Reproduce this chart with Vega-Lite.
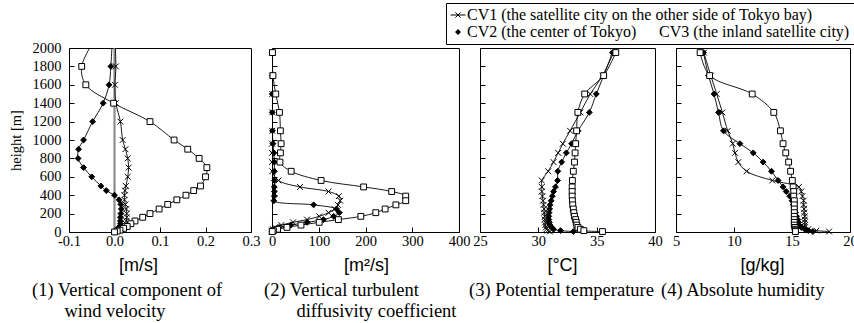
{
"$schema": "https://vega.github.io/schema/vega-lite/v6.json",
"background": "white",
"padding": {"left": 7, "top": 2, "right": 0, "bottom": 0},
"bounds": "flush",
"spacing": 21,
"datasets": {
"prof": [
{"panel":"w","site":"CV1","h":2200,"v":0.0},{"panel":"w","site":"CV1","h":1800,"v":0.003},{"panel":"w","site":"CV1","h":1600,"v":0.001},{"panel":"w","site":"CV1","h":1400,"v":0.003},{"panel":"w","site":"CV1","h":1200,"v":0.013},{"panel":"w","site":"CV1","h":1000,"v":0.018},{"panel":"w","site":"CV1","h":900,"v":0.024},{"panel":"w","site":"CV1","h":800,"v":0.029},{"panel":"w","site":"CV1","h":700,"v":0.031},{"panel":"w","site":"CV1","h":600,"v":0.029},{"panel":"w","site":"CV1","h":500,"v":0.025},{"panel":"w","site":"CV1","h":450,"v":0.023},{"panel":"w","site":"CV1","h":400,"v":0.022},{"panel":"w","site":"CV1","h":350,"v":0.022},{"panel":"w","site":"CV1","h":300,"v":0.024},{"panel":"w","site":"CV1","h":250,"v":0.026},{"panel":"w","site":"CV1","h":200,"v":0.027},{"panel":"w","site":"CV1","h":160,"v":0.027},{"panel":"w","site":"CV1","h":120,"v":0.026},{"panel":"w","site":"CV1","h":90,"v":0.025},{"panel":"w","site":"CV1","h":60,"v":0.022},{"panel":"w","site":"CV1","h":40,"v":0.018},{"panel":"w","site":"CV1","h":20,"v":0.012},{"panel":"w","site":"CV1","h":10,"v":0.006},{"panel":"w","site":"CV1","h":0,"v":0.0},
{"panel":"w","site":"CV2","h":2200,"v":-0.004},{"panel":"w","site":"CV2","h":1800,"v":-0.008},{"panel":"w","site":"CV2","h":1600,"v":-0.012},{"panel":"w","site":"CV2","h":1400,"v":-0.025},{"panel":"w","site":"CV2","h":1200,"v":-0.048},{"panel":"w","site":"CV2","h":1000,"v":-0.068},{"panel":"w","site":"CV2","h":900,"v":-0.079},{"panel":"w","site":"CV2","h":800,"v":-0.08},{"panel":"w","site":"CV2","h":700,"v":-0.068},{"panel":"w","site":"CV2","h":600,"v":-0.05},{"panel":"w","site":"CV2","h":500,"v":-0.03},{"panel":"w","site":"CV2","h":450,"v":-0.018},{"panel":"w","site":"CV2","h":400,"v":0.0},{"panel":"w","site":"CV2","h":350,"v":0.01},{"panel":"w","site":"CV2","h":300,"v":0.014},{"panel":"w","site":"CV2","h":250,"v":0.015},{"panel":"w","site":"CV2","h":200,"v":0.014},{"panel":"w","site":"CV2","h":160,"v":0.013},{"panel":"w","site":"CV2","h":120,"v":0.013},{"panel":"w","site":"CV2","h":90,"v":0.013},{"panel":"w","site":"CV2","h":60,"v":0.011},{"panel":"w","site":"CV2","h":40,"v":0.008},{"panel":"w","site":"CV2","h":20,"v":0.005},{"panel":"w","site":"CV2","h":10,"v":0.002},{"panel":"w","site":"CV2","h":0,"v":0.0},
{"panel":"w","site":"CV3","h":2200,"v":-0.03},{"panel":"w","site":"CV3","h":1800,"v":-0.072},{"panel":"w","site":"CV3","h":1600,"v":-0.063},{"panel":"w","site":"CV3","h":1400,"v":-0.002},{"panel":"w","site":"CV3","h":1200,"v":0.078},{"panel":"w","site":"CV3","h":1000,"v":0.131},{"panel":"w","site":"CV3","h":900,"v":0.161},{"panel":"w","site":"CV3","h":800,"v":0.186},{"panel":"w","site":"CV3","h":700,"v":0.203},{"panel":"w","site":"CV3","h":600,"v":0.2},{"panel":"w","site":"CV3","h":500,"v":0.189},{"panel":"w","site":"CV3","h":450,"v":0.174},{"panel":"w","site":"CV3","h":400,"v":0.157},{"panel":"w","site":"CV3","h":350,"v":0.137},{"panel":"w","site":"CV3","h":300,"v":0.117},{"panel":"w","site":"CV3","h":250,"v":0.098},{"panel":"w","site":"CV3","h":200,"v":0.078},{"panel":"w","site":"CV3","h":160,"v":0.062},{"panel":"w","site":"CV3","h":120,"v":0.045},{"panel":"w","site":"CV3","h":90,"v":0.036},{"panel":"w","site":"CV3","h":60,"v":0.028},{"panel":"w","site":"CV3","h":40,"v":0.02},{"panel":"w","site":"CV3","h":20,"v":0.012},{"panel":"w","site":"CV3","h":10,"v":0.006},{"panel":"w","site":"CV3","h":0,"v":0.0},
{"panel":"k","site":"CV1","h":1950,"v":0.5},{"panel":"k","site":"CV1","h":1700,"v":0.5},{"panel":"k","site":"CV1","h":1500,"v":0.5},{"panel":"k","site":"CV1","h":1300,"v":0.5},{"panel":"k","site":"CV1","h":1100,"v":0.5},{"panel":"k","site":"CV1","h":960,"v":0},{"panel":"k","site":"CV1","h":860,"v":0},{"panel":"k","site":"CV1","h":760,"v":0},{"panel":"k","site":"CV1","h":660,"v":0.5},{"panel":"k","site":"CV1","h":560,"v":14},{"panel":"k","site":"CV1","h":490,"v":60},{"panel":"k","site":"CV1","h":440,"v":121},{"panel":"k","site":"CV1","h":390,"v":143},{"panel":"k","site":"CV1","h":340,"v":146},{"panel":"k","site":"CV1","h":295,"v":141},{"panel":"k","site":"CV1","h":250,"v":134},{"panel":"k","site":"CV1","h":210,"v":121},{"panel":"k","site":"CV1","h":170,"v":101},{"panel":"k","site":"CV1","h":135,"v":75},{"panel":"k","site":"CV1","h":105,"v":45},{"panel":"k","site":"CV1","h":75,"v":20},{"panel":"k","site":"CV1","h":50,"v":6},{"panel":"k","site":"CV1","h":30,"v":2},{"panel":"k","site":"CV1","h":15,"v":0.5},{"panel":"k","site":"CV1","h":5,"v":0},
{"panel":"k","site":"CV2","h":1950,"v":0.5},{"panel":"k","site":"CV2","h":1700,"v":0.5},{"panel":"k","site":"CV2","h":1500,"v":0.5},{"panel":"k","site":"CV2","h":1300,"v":0.5},{"panel":"k","site":"CV2","h":1100,"v":1},{"panel":"k","site":"CV2","h":960,"v":2},{"panel":"k","site":"CV2","h":860,"v":4},{"panel":"k","site":"CV2","h":760,"v":5},{"panel":"k","site":"CV2","h":660,"v":5},{"panel":"k","site":"CV2","h":560,"v":5},{"panel":"k","site":"CV2","h":490,"v":5},{"panel":"k","site":"CV2","h":440,"v":5},{"panel":"k","site":"CV2","h":390,"v":5},{"panel":"k","site":"CV2","h":340,"v":4},{"panel":"k","site":"CV2","h":295,"v":89},{"panel":"k","site":"CV2","h":250,"v":138},{"panel":"k","site":"CV2","h":210,"v":144},{"panel":"k","site":"CV2","h":170,"v":132},{"panel":"k","site":"CV2","h":135,"v":110},{"panel":"k","site":"CV2","h":105,"v":75},{"panel":"k","site":"CV2","h":75,"v":40},{"panel":"k","site":"CV2","h":50,"v":15},{"panel":"k","site":"CV2","h":30,"v":5},{"panel":"k","site":"CV2","h":15,"v":2},{"panel":"k","site":"CV2","h":5,"v":0},
{"panel":"k","site":"CV3","h":1950,"v":1},{"panel":"k","site":"CV3","h":1700,"v":2},{"panel":"k","site":"CV3","h":1500,"v":8},{"panel":"k","site":"CV3","h":1300,"v":16},{"panel":"k","site":"CV3","h":1100,"v":18},{"panel":"k","site":"CV3","h":960,"v":19.5},{"panel":"k","site":"CV3","h":860,"v":18},{"panel":"k","site":"CV3","h":760,"v":17},{"panel":"k","site":"CV3","h":660,"v":41},{"panel":"k","site":"CV3","h":560,"v":105},{"panel":"k","site":"CV3","h":490,"v":196},{"panel":"k","site":"CV3","h":440,"v":256},{"panel":"k","site":"CV3","h":390,"v":286},{"panel":"k","site":"CV3","h":340,"v":286},{"panel":"k","site":"CV3","h":295,"v":265},{"panel":"k","site":"CV3","h":250,"v":242},{"panel":"k","site":"CV3","h":210,"v":222},{"panel":"k","site":"CV3","h":170,"v":190},{"panel":"k","site":"CV3","h":135,"v":142},{"panel":"k","site":"CV3","h":105,"v":101},{"panel":"k","site":"CV3","h":75,"v":62},{"panel":"k","site":"CV3","h":50,"v":32},{"panel":"k","site":"CV3","h":30,"v":12},{"panel":"k","site":"CV3","h":15,"v":3},{"panel":"k","site":"CV3","h":5,"v":0.5},
{"panel":"t","site":"CV1","h":1950,"v":36.45},{"panel":"t","site":"CV1","h":1700,"v":35.5},{"panel":"t","site":"CV1","h":1500,"v":34.45},{"panel":"t","site":"CV1","h":1300,"v":33.6},{"panel":"t","site":"CV1","h":1100,"v":32.72},{"panel":"t","site":"CV1","h":960,"v":32.1},{"panel":"t","site":"CV1","h":860,"v":31.7},{"panel":"t","site":"CV1","h":760,"v":31.3},{"panel":"t","site":"CV1","h":660,"v":30.85},{"panel":"t","site":"CV1","h":560,"v":30.3},{"panel":"t","site":"CV1","h":490,"v":30.3},{"panel":"t","site":"CV1","h":440,"v":30.3},{"panel":"t","site":"CV1","h":390,"v":30.35},{"panel":"t","site":"CV1","h":340,"v":30.4},{"panel":"t","site":"CV1","h":295,"v":30.45},{"panel":"t","site":"CV1","h":250,"v":30.5},{"panel":"t","site":"CV1","h":210,"v":30.5},{"panel":"t","site":"CV1","h":170,"v":30.55},{"panel":"t","site":"CV1","h":135,"v":30.55},{"panel":"t","site":"CV1","h":105,"v":30.6},{"panel":"t","site":"CV1","h":75,"v":30.6},{"panel":"t","site":"CV1","h":50,"v":30.65},{"panel":"t","site":"CV1","h":30,"v":30.7},{"panel":"t","site":"CV1","h":15,"v":30.8},{"panel":"t","site":"CV1","h":5,"v":31.0},
{"panel":"t","site":"CV2","h":1950,"v":36.35},{"panel":"t","site":"CV2","h":1700,"v":35.6},{"panel":"t","site":"CV2","h":1500,"v":34.97},{"panel":"t","site":"CV2","h":1300,"v":34.37},{"panel":"t","site":"CV2","h":1100,"v":33.4},{"panel":"t","site":"CV2","h":960,"v":32.85},{"panel":"t","site":"CV2","h":860,"v":32.4},{"panel":"t","site":"CV2","h":760,"v":32.0},{"panel":"t","site":"CV2","h":660,"v":31.67},{"panel":"t","site":"CV2","h":560,"v":31.65},{"panel":"t","site":"CV2","h":490,"v":31.47},{"panel":"t","site":"CV2","h":440,"v":31.3},{"panel":"t","site":"CV2","h":390,"v":31.2},{"panel":"t","site":"CV2","h":340,"v":31.1},{"panel":"t","site":"CV2","h":295,"v":31.0},{"panel":"t","site":"CV2","h":250,"v":30.97},{"panel":"t","site":"CV2","h":210,"v":30.92},{"panel":"t","site":"CV2","h":170,"v":30.9},{"panel":"t","site":"CV2","h":135,"v":30.9},{"panel":"t","site":"CV2","h":105,"v":30.95},{"panel":"t","site":"CV2","h":75,"v":31.0},{"panel":"t","site":"CV2","h":50,"v":31.15},{"panel":"t","site":"CV2","h":30,"v":31.3},{"panel":"t","site":"CV2","h":15,"v":31.9},{"panel":"t","site":"CV2","h":5,"v":33.0},
{"panel":"t","site":"CV3","h":1950,"v":36.64},{"panel":"t","site":"CV3","h":1700,"v":35.6},{"panel":"t","site":"CV3","h":1500,"v":33.97},{"panel":"t","site":"CV3","h":1300,"v":33.39},{"panel":"t","site":"CV3","h":1100,"v":33.28},{"panel":"t","site":"CV3","h":960,"v":33.2},{"panel":"t","site":"CV3","h":860,"v":33.15},{"panel":"t","site":"CV3","h":760,"v":33.1},{"panel":"t","site":"CV3","h":660,"v":33.0},{"panel":"t","site":"CV3","h":560,"v":32.92},{"panel":"t","site":"CV3","h":490,"v":32.9},{"panel":"t","site":"CV3","h":440,"v":32.9},{"panel":"t","site":"CV3","h":390,"v":32.9},{"panel":"t","site":"CV3","h":340,"v":32.92},{"panel":"t","site":"CV3","h":295,"v":32.95},{"panel":"t","site":"CV3","h":250,"v":33.0},{"panel":"t","site":"CV3","h":210,"v":33.05},{"panel":"t","site":"CV3","h":170,"v":33.1},{"panel":"t","site":"CV3","h":135,"v":33.2},{"panel":"t","site":"CV3","h":105,"v":33.25},{"panel":"t","site":"CV3","h":75,"v":33.3},{"panel":"t","site":"CV3","h":50,"v":33.4},{"panel":"t","site":"CV3","h":30,"v":33.6},{"panel":"t","site":"CV3","h":15,"v":33.9},{"panel":"t","site":"CV3","h":5,"v":35.5},
{"panel":"q","site":"CV1","h":1950,"v":7.4},{"panel":"q","site":"CV1","h":1700,"v":8.0},{"panel":"q","site":"CV1","h":1500,"v":8.51},{"panel":"q","site":"CV1","h":1300,"v":9.0},{"panel":"q","site":"CV1","h":1100,"v":9.46},{"panel":"q","site":"CV1","h":960,"v":9.89},{"panel":"q","site":"CV1","h":860,"v":10.09},{"panel":"q","site":"CV1","h":760,"v":10.37},{"panel":"q","site":"CV1","h":660,"v":11.09},{"panel":"q","site":"CV1","h":560,"v":13.3},{"panel":"q","site":"CV1","h":490,"v":15.6},{"panel":"q","site":"CV1","h":440,"v":15.8},{"panel":"q","site":"CV1","h":390,"v":15.9},{"panel":"q","site":"CV1","h":340,"v":16.0},{"panel":"q","site":"CV1","h":295,"v":16.0},{"panel":"q","site":"CV1","h":250,"v":16.05},{"panel":"q","site":"CV1","h":210,"v":16.05},{"panel":"q","site":"CV1","h":170,"v":16.1},{"panel":"q","site":"CV1","h":135,"v":16.1},{"panel":"q","site":"CV1","h":105,"v":16.1},{"panel":"q","site":"CV1","h":75,"v":16.1},{"panel":"q","site":"CV1","h":50,"v":16.1},{"panel":"q","site":"CV1","h":30,"v":16.4},{"panel":"q","site":"CV1","h":15,"v":17.1},{"panel":"q","site":"CV1","h":5,"v":18.2},
{"panel":"q","site":"CV2","h":1950,"v":7.37},{"panel":"q","site":"CV2","h":1700,"v":7.8},{"panel":"q","site":"CV2","h":1500,"v":8.28},{"panel":"q","site":"CV2","h":1300,"v":8.66},{"panel":"q","site":"CV2","h":1100,"v":9.09},{"panel":"q","site":"CV2","h":960,"v":10.51},{"panel":"q","site":"CV2","h":860,"v":11.66},{"panel":"q","site":"CV2","h":760,"v":12.51},{"panel":"q","site":"CV2","h":660,"v":13.23},{"panel":"q","site":"CV2","h":560,"v":13.8},{"panel":"q","site":"CV2","h":490,"v":14.23},{"panel":"q","site":"CV2","h":440,"v":14.5},{"panel":"q","site":"CV2","h":390,"v":14.8},{"panel":"q","site":"CV2","h":340,"v":15.0},{"panel":"q","site":"CV2","h":295,"v":15.1},{"panel":"q","site":"CV2","h":250,"v":15.2},{"panel":"q","site":"CV2","h":210,"v":15.3},{"panel":"q","site":"CV2","h":170,"v":15.4},{"panel":"q","site":"CV2","h":135,"v":15.5},{"panel":"q","site":"CV2","h":105,"v":15.55},{"panel":"q","site":"CV2","h":75,"v":15.6},{"panel":"q","site":"CV2","h":50,"v":15.8},{"panel":"q","site":"CV2","h":30,"v":16.1},{"panel":"q","site":"CV2","h":15,"v":16.4},{"panel":"q","site":"CV2","h":5,"v":16.8},
{"panel":"q","site":"CV3","h":1950,"v":7.08},{"panel":"q","site":"CV3","h":1700,"v":7.9},{"panel":"q","site":"CV3","h":1500,"v":11.57},{"panel":"q","site":"CV3","h":1300,"v":13.43},{"panel":"q","site":"CV3","h":1100,"v":14.0},{"panel":"q","site":"CV3","h":960,"v":14.23},{"panel":"q","site":"CV3","h":860,"v":14.46},{"panel":"q","site":"CV3","h":760,"v":14.71},{"panel":"q","site":"CV3","h":660,"v":14.88},{"panel":"q","site":"CV3","h":560,"v":15.03},{"panel":"q","site":"CV3","h":490,"v":15.1},{"panel":"q","site":"CV3","h":440,"v":15.15},{"panel":"q","site":"CV3","h":390,"v":15.15},{"panel":"q","site":"CV3","h":340,"v":15.2},{"panel":"q","site":"CV3","h":295,"v":15.2},{"panel":"q","site":"CV3","h":250,"v":15.2},{"panel":"q","site":"CV3","h":210,"v":15.2},{"panel":"q","site":"CV3","h":170,"v":15.2},{"panel":"q","site":"CV3","h":135,"v":15.2},{"panel":"q","site":"CV3","h":105,"v":15.2},{"panel":"q","site":"CV3","h":75,"v":15.2},{"panel":"q","site":"CV3","h":50,"v":15.25},{"panel":"q","site":"CV3","h":30,"v":15.3},{"panel":"q","site":"CV3","h":15,"v":15.3},{"panel":"q","site":"CV3","h":5,"v":15.3}
]
},
"hconcat": [
{
"width": 182, "height": 184,
"title": {"text": ["(1) Vertical component of", "\u200b\u00a0\u00a0\u00a0\u00a0\u00a0\u00a0\u00a0wind velocity"], "dx": -37},
"encoding": {
  "x": {"field": "v", "type": "quantitative", "scale": {"domain": [-0.1, 0.3], "nice": false, "zero": false},
        "axis": {"values": [-0.1, 0, 0.1, 0.2, 0.3], "labelExpr": "datum.value < 0 ? '-' + format(-datum.value, '.1f') : format(datum.value, '.1f')", "title": "[m/s]", "titleX": 69, "labelFont": "Liberation Serif", "labelFontSize": 14.5, "labelPadding": 7, "titleFont": "Liberation Sans", "titleFontSize": 18, "titleFontWeight": "normal", "titlePadding": 9}},
  "y": {"field": "h", "type": "quantitative", "scale": {"domain": [0, 2000], "nice": false},
        "axis": {"values": [0,200,400,600,800,1000,1200,1400,1600,1800,2000], "format": "d", "title": "height [m]", "labelFont": "Liberation Serif", "labelFontSize": 14.5, "labelPadding": 13, "titleFont": "Liberation Serif", "titleFontSize": 14.5, "titleFontWeight": "normal", "titlePadding": 9}}
},
"layer": [
{"data": {"values": [{"v": 0, "h": 0, "h2": 2000}]}, "mark": {"type": "rule", "color": "#8c8c8c", "strokeWidth": 2.2}, "encoding": {"y2": {"field": "h2"}}},
{"data": {"name": "prof"}, "transform": [{"filter": "datum.panel === 'w'"}],
 "mark": {"type": "line", "color": "black", "strokeWidth": 0.9, "interpolate": "catmull-rom", "clip": true},
 "encoding": {"detail": {"field": "site"}, "order": {"field": "h", "type": "quantitative"}}},
{"data": {"name": "prof"}, "transform": [{"filter": "datum.panel === 'w' && datum.h <= 2000"}],
 "mark": {"type": "point", "filled": true, "stroke": "black", "strokeWidth": 1, "opacity": 1, "size": 34},
 "encoding": {
  "shape": {"field": "site", "type": "nominal", "scale": {"domain": ["CV1","CV2","CV3"], "range": ["M-1,-1L1,1M-1,1L1,-1", "diamond", "square"]}, "legend": null},
  "fill": {"field": "site", "type": "nominal", "scale": {"domain": ["CV1","CV2","CV3"], "range": ["white", "black", "white"]}, "legend": null}}}
]
},
{
"width": 187, "height": 184,
"title": {"text": ["(2) Vertical turbulent", "\u200b\u00a0\u00a0\u00a0\u00a0\u00a0\u00a0\u00a0diffusivity coefficient"], "dx": -8},
"encoding": {
  "x": {"field": "v", "type": "quantitative", "scale": {"domain": [0, 400], "nice": false},
        "axis": {"values": [0, 100, 200, 300, 400], "format": "d", "title": "[m\u00b2/s]", "titleX": 94, "labelFont": "Liberation Serif", "labelFontSize": 14.5, "labelPadding": 7, "titleFont": "Liberation Sans", "titleFontSize": 18, "titleFontWeight": "normal", "titlePadding": 9}},
  "y": {"field": "h", "type": "quantitative", "scale": {"domain": [0, 2000], "nice": false},
        "axis": {"values": [0,200,400,600,800,1000,1200,1400,1600,1800,2000], "labels": false, "title": null}}
},
"layer": [
{"data": {"name": "prof"}, "transform": [{"filter": "datum.panel === 'k'"}],
 "mark": {"type": "line", "color": "black", "strokeWidth": 0.9, "interpolate": "catmull-rom", "clip": true},
 "encoding": {"detail": {"field": "site"}, "order": {"field": "h", "type": "quantitative"}}},
{"data": {"name": "prof"}, "transform": [{"filter": "datum.panel === 'k'"}],
 "mark": {"type": "point", "filled": true, "stroke": "black", "strokeWidth": 1, "opacity": 1, "size": 34},
 "encoding": {
  "shape": {"field": "site", "type": "nominal", "scale": {"domain": ["CV1","CV2","CV3"], "range": ["M-1,-1L1,1M-1,1L1,-1", "diamond", "square"]}, "legend": null},
  "fill": {"field": "site", "type": "nominal", "scale": {"domain": ["CV1","CV2","CV3"], "range": ["white", "black", "white"]}, "legend": null}}}
]
},
{
"width": 175, "height": 184,
"title": {"text": "(3) Potential temperature", "dx": -11},
"encoding": {
  "x": {"field": "v", "type": "quantitative", "scale": {"domain": [25, 40], "nice": false, "zero": false},
        "axis": {"values": [25, 30, 35, 40], "format": "d", "title": "[\u00b0C]", "titleX": 82, "labelFont": "Liberation Serif", "labelFontSize": 14.5, "labelPadding": 7, "titleFont": "Liberation Sans", "titleFontSize": 18, "titleFontWeight": "normal", "titlePadding": 9}},
  "y": {"field": "h", "type": "quantitative", "scale": {"domain": [0, 2000], "nice": false},
        "axis": {"values": [0,200,400,600,800,1000,1200,1400,1600,1800,2000], "labels": false, "title": null}}
},
"layer": [
{"data": {"name": "prof"}, "transform": [{"filter": "datum.panel === 't'"}],
 "mark": {"type": "line", "color": "black", "strokeWidth": 0.9, "interpolate": "catmull-rom", "clip": true},
 "encoding": {"detail": {"field": "site"}, "order": {"field": "h", "type": "quantitative"}}},
{"data": {"name": "prof"}, "transform": [{"filter": "datum.panel === 't'"}],
 "mark": {"type": "point", "filled": true, "stroke": "black", "strokeWidth": 1, "opacity": 1, "size": 34},
 "encoding": {
  "shape": {"field": "site", "type": "nominal", "scale": {"domain": ["CV1","CV2","CV3"], "range": ["M-1,-1L1,1M-1,1L1,-1", "diamond", "square"]}, "legend": null},
  "fill": {"field": "site", "type": "nominal", "scale": {"domain": ["CV1","CV2","CV3"], "range": ["white", "black", "white"]}, "legend": null}}}
]
},
{
"width": 174, "height": 184,
"title": {"text": "(4) Absolute humidity", "dx": -15},
"resolve": {"scale": {"shape": "independent", "fill": "independent"}},
"encoding": {
  "x": {"field": "v", "type": "quantitative", "scale": {"domain": [5, 20], "nice": false, "zero": false},
        "axis": {"values": [5, 10, 15, 20], "format": "d", "title": "[g/kg]", "titleX": 86, "labelFont": "Liberation Serif", "labelFontSize": 14.5, "labelPadding": 7, "titleFont": "Liberation Sans", "titleFontSize": 18, "titleFontWeight": "normal", "titlePadding": 9}},
  "y": {"field": "h", "type": "quantitative", "scale": {"domain": [0, 2000], "nice": false},
        "axis": {"values": [0,200,400,600,800,1000,1200,1400,1600,1800,2000], "labels": false, "title": null}}
},
"layer": [
{"data": {"name": "prof"}, "transform": [{"filter": "datum.panel === 'q'"}],
 "mark": {"type": "line", "color": "black", "strokeWidth": 0.9, "interpolate": "catmull-rom", "clip": true},
 "encoding": {"detail": {"field": "site"}, "order": {"field": "h", "type": "quantitative"}}},
{"data": {"name": "prof"}, "transform": [{"filter": "datum.panel === 'q'"}],
 "mark": {"type": "point", "filled": true, "stroke": "black", "strokeWidth": 1, "opacity": 1, "size": 34},
 "encoding": {
  "shape": {"field": "site", "type": "nominal", "scale": {"domain": ["CV1","CV2","CV3"], "range": ["M-1,-1L1,1M-1,1L1,-1", "diamond", "square"]}, "legend": null},
  "fill": {"field": "site", "type": "nominal", "scale": {"domain": ["CV1","CV2","CV3"], "range": ["white", "black", "white"]}, "legend": null}}},
{"data": {"name": "prof"}, "transform": [{"filter": "false"}],
 "mark": {"type": "point", "filled": false, "color": "black", "stroke": "black", "strokeWidth": 1, "opacity": 1},
 "encoding": {
  "shape": {"field": "site", "type": "nominal", "scale": {"domain": ["CV1"], "range": ["M-1,0H1M-0.35,-0.35L0.35,0.35M-0.35,0.35L0.35,-0.35"]},
            "legend": {"title": null, "orient": "none", "legendX": -230, "legendY": -45, "padding": 4, "labelOffset": 1, "symbolSize": 225, "symbolStrokeWidth": 1, "symbolStrokeColor": "black",
                       "labelExpr": "'CV1 (the satellite city on the other side of Tokyo bay)'"}}}},
{"data": {"name": "prof"}, "transform": [{"filter": "false"}],
 "mark": {"type": "point", "filled": true, "fill": "black", "stroke": "black", "strokeWidth": 1, "opacity": 1},
 "encoding": {
  "shape": {"field": "site", "type": "nominal", "scale": {"domain": [" ", "  ", "CV2", "CV3"], "range": ["M0,0", "M0,0", "M-1,0H1M0,-0.4L0.4,0L0,0.4L-0.4,0Z", "M-1,0H-0.35M0.35,0H1M-0.35,-0.35H0.35V0.35H-0.35ZM-0.35,-0.35V0.35H0.35V-0.35Z"]},
            "legend": {"title": null, "orient": "none", "direction": "horizontal", "legendX": -230, "legendY": -45, "padding": 4, "labelOffset": 1, "symbolSize": 225, "columns": 2, "columnPadding": 3, "rowPadding": 1, "strokeColor": "black", "symbolStrokeWidth": 1, "symbolStrokeColor": "black", "symbolFillColor": "black",
                       "labelExpr": "datum.value === 'CV2' ? 'CV2 (the center of Tokyo)' : datum.value === 'CV3' ? 'CV3 (the inland satellite city)' : ''"}}}}
]
}
],
"config": {
"font": "Liberation Serif",
"style": {"guide-label": {"font": "Liberation Serif", "fontSize": 14.5, "fill": "black"}},
"view": {"stroke": "black", "strokeWidth": 1},
"axis": {"domain": false, "grid": false, "tickSize": -5, "tickColor": "black", "tickWidth": 1, "labelFont": "Liberation Serif", "labelFontSize": 14.5, "labelColor": "black", "labelFlush": false, "labelOverlap": false, "labelBound": false, "titleFont": "Liberation Sans", "titleFontSize": 18, "titleFontWeight": "normal", "titleColor": "black"},
"title": {"font": "Liberation Serif", "fontSize": 18.5, "fontWeight": "normal", "color": "black", "orient": "bottom", "anchor": "start", "frame": "group", "lineHeight": 21.5, "offset": 6},
"legend": {"labelFont": "Liberation Serif", "labelFontSize": 16, "labelColor": "black", "labelLimit": 1000}
}
}
